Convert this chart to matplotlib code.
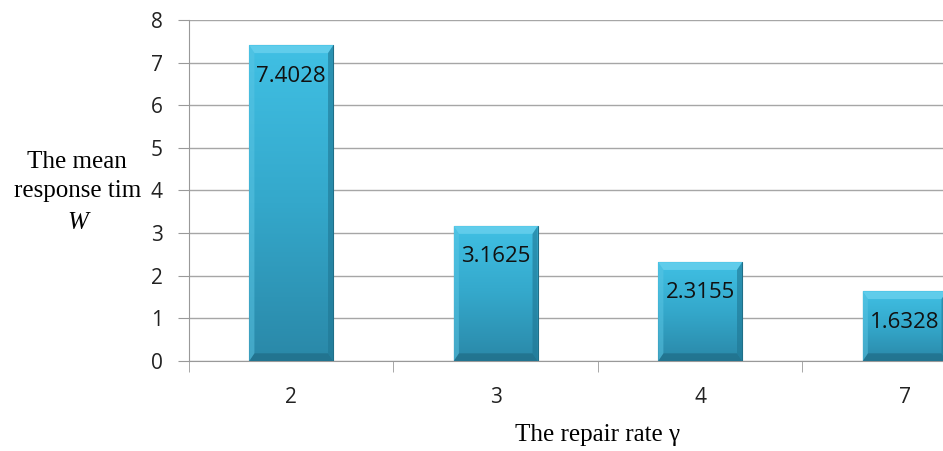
import matplotlib.pyplot as plt
import numpy as np

categories = ['2', '3', '4', '7']
values = [7.4028, 3.1625, 2.3155, 1.6328]
value_labels = ['7.4028', '3.1625', '2.3155', '1.6328']

fig = plt.figure(figsize=(9.43, 4.51), dpi=100)
# the original chart is cut off on the right, so the axes runs past the figure edge
ax = fig.add_axes([0.2004, 0.1996, 0.8674, 0.7561])

x = np.arange(len(categories))
bars = ax.bar(x, values, width=0.41, color='#35a9cc', edgecolor='#1f6f88',
              linewidth=0.8, zorder=3)

# vertical gradient inside each bar
grad = np.linspace(0, 1, 256).reshape(-1, 1)
cmap = plt.matplotlib.colors.LinearSegmentedColormap.from_list(
    'bar', ['#2a88a8', '#34a8cb', '#40c0e4'])
for b in bars:
    x0, w, h = b.get_x(), b.get_width(), b.get_height()
    im = ax.imshow(grad, extent=[x0, x0 + w, 0, h], origin='lower',
                   cmap=cmap, aspect='auto', zorder=3.5)
    im.set_clip_path(b)
    # bevel: light top strip, darker bottom strip
    ax.fill([x0, x0 + w, x0 + w - 0.025, x0 + 0.025],
            [h, h, h - 0.18, h - 0.18], color='#6fd3ef', alpha=0.7, zorder=4, lw=0)
    ax.fill([x0, x0 + w, x0 + w - 0.025, x0 + 0.025],
            [0, 0, 0.18, 0.18], color='#1d6780', alpha=0.6, zorder=4, lw=0)
    ax.fill([x0, x0 + 0.025, x0 + 0.025, x0],
            [0, 0.18, h - 0.18, h], color='#5cc6e4', alpha=0.5, zorder=4, lw=0)
    ax.fill([x0 + w, x0 + w - 0.025, x0 + w - 0.025, x0 + w],
            [0, 0.18, h - 0.18, h], color='#1f7693', alpha=0.6, zorder=4, lw=0)

for xi, v, lab in zip(x, values, value_labels):
    ax.text(xi, v - 0.72, lab, ha='center', va='center', fontsize=16,
            family='Open Sans', color='#111111', zorder=5)

ax.set_xlim(-0.5, 3.5)
ax.set_ylim(0, 8)
ax.set_yticks(range(0, 9))
ax.set_xticks(x)
ax.set_xticklabels(categories)
ax.set_xticks(np.arange(-0.5, 4, 1), minor=True)
ax.tick_params(axis='x', which='major', length=0, pad=19, labelsize=15,
               colors='#222222')
ax.tick_params(axis='x', which='minor', length=8, color='#999999', direction='out')
ax.tick_params(axis='y', length=8, color='#999999', pad=11, labelsize=15,
               colors='#999999', labelcolor='#222222')
for t in ax.get_xticklabels() + ax.get_yticklabels():
    t.set_family('Open Sans')

ax.grid(axis='y', color='#a6a6a6', linewidth=1, zorder=0)
for s in ['top', 'right']:
    ax.spines[s].set_visible(False)
ax.spines['left'].set_color('#999999')
ax.spines['bottom'].set_color('#999999')

fig.text(0.082, 0.608, 'The mean\nresponse tim', ha='center', va='center',
         fontsize=18, family='Liberation Serif', linespacing=1.4)
fig.text(0.082, 0.505, 'W', ha='center', va='center', fontsize=18,
         family='Liberation Serif', style='italic')
fig.text(0.634, 0.035, 'The repair rate \u03b3', ha='center', va='center',
         fontsize=18, family='Liberation Serif')

fig.savefig('out.png', dpi=100)
